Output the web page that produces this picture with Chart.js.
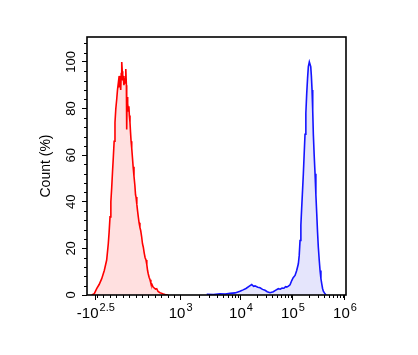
<!DOCTYPE html>
<html><head><meta charset="utf-8">
<script src="https://cdn.jsdelivr.net/npm/chart.js@4/dist/chart.umd.min.js"></script>
<style>html,body{margin:0;padding:0;background:#fff}#wrap{width:418px;height:355px}</style>
</head><body><div id="wrap"><canvas id="c" width="418" height="355"></canvas></div>
<script>
// ---- data (fluorescence intensity -> % of max count) ----
const redValues = [-380,-340,-303,-265,-225,-185,-148,-123,-110,-96,-83,-70,-57,-45,-32,-19,-6,8,20,33,40,48,58,70,78,86,94,101,110,120,130,137,146,152,158,163,168,174,182,190,197,204,214,222,231,241,252,263,276,290,300,308,320,332,343,355,368,380,395,408,421,435,449,463,475,487,498,512,525,538,551,570,590,610,629,650,680,710,731,760,805];
const redCounts = [0,0.6,2.7,4.5,7,10.5,15,22,27,33.5,40,46,53,59,66,74,80,84,88,91,89,94,92,88,95,100,96,92,94,90,92,91,96,97,90,71,83,85,82,79,81,77,74,70,66,63,59,55,51,47,43,42,39,36,33.5,31,29,27.7,25,22,20.5,18,16,15,13,10.5,9,7.5,6.5,5,4.8,3.5,3,2.5,2.7,1.5,1,0.7,0.4,0.2,0];
const blueValues = [2709,3500,4500,5500,6590,8000,9640,11000,12500,14500,16100,17500,18650,21000,23300,26000,29040,32000,36220,39000,41970,46000,52380,57000,61660,67000,72000,75860,82000,87900,94800,101000,109700,118000,127000,132000,136800,142000,147500,153000,158500,164000,170600,177000,184000,191000,197700,206600,219800,226000,232800,240000,246600,256000,266000,276000,286600,297000,307600,320000,332000,345000,358000,371000,384000,414000,433000];
const blueCounts = [0.3,0.2,0.5,0.4,0.7,0.9,1.6,2.2,2.8,3.8,4.5,3.7,3.9,3.3,3.1,2.4,2.0,1.4,1.0,1.2,1.4,2.0,2.7,2.5,3.0,2.9,3.6,3.4,3.8,4.4,6.2,7.4,8.4,10.5,13.4,17,23.4,30,37.8,45,52,60,69,78,86.5,93,98,100,98,94,88,79,69,60,52,43,35,27,20.5,15,10.5,7,4.8,2.8,1.6,0.5,0];
const xTickValues = [-316.2, 1e3, 1e4, 1e5, 1e6];
const xTickBase = ['-10', '10', '10', '10', '10'];
const xTickExp = ['2.5', '3', '4', '5', '6'];
const yTickValues = [0, 20, 40, 60, 80, 100];
const yTitle = 'Count (%)';

// biexponential-like display transform (linear near zero, log above 10^3)
function T(v) {
  if (v >= 1e4) return Math.log10(v);
  if (v >= 1e3) return 2.84 + (Math.log10(v) - 3) * 1.16;
  return 1.21 + (v + 316.2) / 1316.2 * 1.63;
}
const pts = (xs, ys) => xs.map((v, i) => ({x: T(v), y: ys[i]}));

const FONT = '"Liberation Sans", Arial, sans-serif';
const minorX = [];
for (let v = -300; v <= 900; v += 100) minorX.push(v);
for (let d = 3; d <= 5; d++) for (let k = 2; k <= 9; k++) minorX.push(k * Math.pow(10, d));
const minorY = [];
for (let v = 4; v <= 108; v += 4) if (v % 20) minorY.push(v);

const overlay = {
  id: 'overlay',
  afterDraw(chart) {
    const {ctx, chartArea: a, scales: {x, y}} = chart;
    ctx.save();
    ctx.strokeStyle = '#000';
    ctx.lineWidth = 1.6;
    ctx.strokeRect(a.left, a.top, a.right - a.left, a.bottom - a.top);
    ctx.lineWidth = 1;
    ctx.beginPath();
    minorX.forEach(v => { const px = Math.round(x.getPixelForValue(T(v))) + 0.5; ctx.moveTo(px, a.bottom); ctx.lineTo(px, a.bottom + 3); });
    minorY.forEach(v => { const py = Math.round(y.getPixelForValue(v)) + 0.5; ctx.moveTo(a.left, py); ctx.lineTo(a.left - 3, py); });
    ctx.stroke();
    ctx.fillStyle = '#000';
    ctx.font = '13px ' + FONT;
    ctx.textAlign = 'center';
    ctx.textBaseline = 'middle';
    yTickValues.forEach(v => {
      ctx.save();
      ctx.translate(71, y.getPixelForValue(v));
      ctx.rotate(-Math.PI / 2);
      ctx.fillText(String(v), 0, 0);
      ctx.restore();
    });
    ctx.save();
    ctx.font = '14px ' + FONT;
    ctx.translate(46, (a.top + a.bottom) / 2);
    ctx.rotate(-Math.PI / 2);
    ctx.fillText(yTitle, 0, 0);
    ctx.restore();
    ctx.textAlign = 'left';
    ctx.textBaseline = 'alphabetic';
    xTickValues.forEach((v, i) => {
      ctx.font = '15px ' + FONT;
      const wb = ctx.measureText(xTickBase[i]).width;
      ctx.font = '11px ' + FONT;
      const we = ctx.measureText(xTickExp[i]).width;
      const cx = x.getPixelForValue(T(v));
      const x0 = cx - (wb + we + 1) / 2;
      ctx.font = '15px ' + FONT;
      ctx.fillText(xTickBase[i], x0, 318);
      ctx.font = '11px ' + FONT;
      ctx.fillText(xTickExp[i], x0 + wb + 1, 311);
    });
    ctx.restore();
  }
};

new Chart(document.getElementById('c'), {
  type: 'line',
  data: {
    datasets: [
      {data: pts(redValues, redCounts), borderColor: '#ff0000', backgroundColor: 'rgba(255,0,0,0.12)', fill: 'origin', borderWidth: 1.6, pointRadius: 0, tension: 0},
      {data: pts(blueValues, blueCounts), borderColor: '#1414ff', backgroundColor: 'rgba(40,40,230,0.12)', fill: 'origin', borderWidth: 1.6, pointRadius: 0, tension: 0}
    ]
  },
  options: {
    responsive: false,
    devicePixelRatio: 1,
    animation: false,
    layout: {padding: {left: 0, top: 37, right: 72, bottom: 0}},
    plugins: {legend: {display: false}, tooltip: {enabled: false}},
    scales: {
      x: {
        type: 'linear', min: 1.04, max: 6.02,
        afterBuildTicks: s => { s.ticks = xTickValues.map(v => ({value: T(v)})); },
        ticks: {display: false},
        grid: {drawOnChartArea: false, drawTicks: true, tickLength: 5, color: '#000', lineWidth: 1},
        border: {display: false},
        afterFit: s => { s.height = 60; }
      },
      y: {
        type: 'linear', min: 0, max: 110.7,
        afterBuildTicks: s => { s.ticks = yTickValues.map(v => ({value: v})); },
        ticks: {display: false},
        grid: {drawOnChartArea: false, drawTicks: true, tickLength: 5, color: '#000', lineWidth: 1},
        border: {display: false},
        afterFit: s => { s.width = 87; }
      }
    }
  },
  plugins: [overlay]
});
</script>
</body></html>
